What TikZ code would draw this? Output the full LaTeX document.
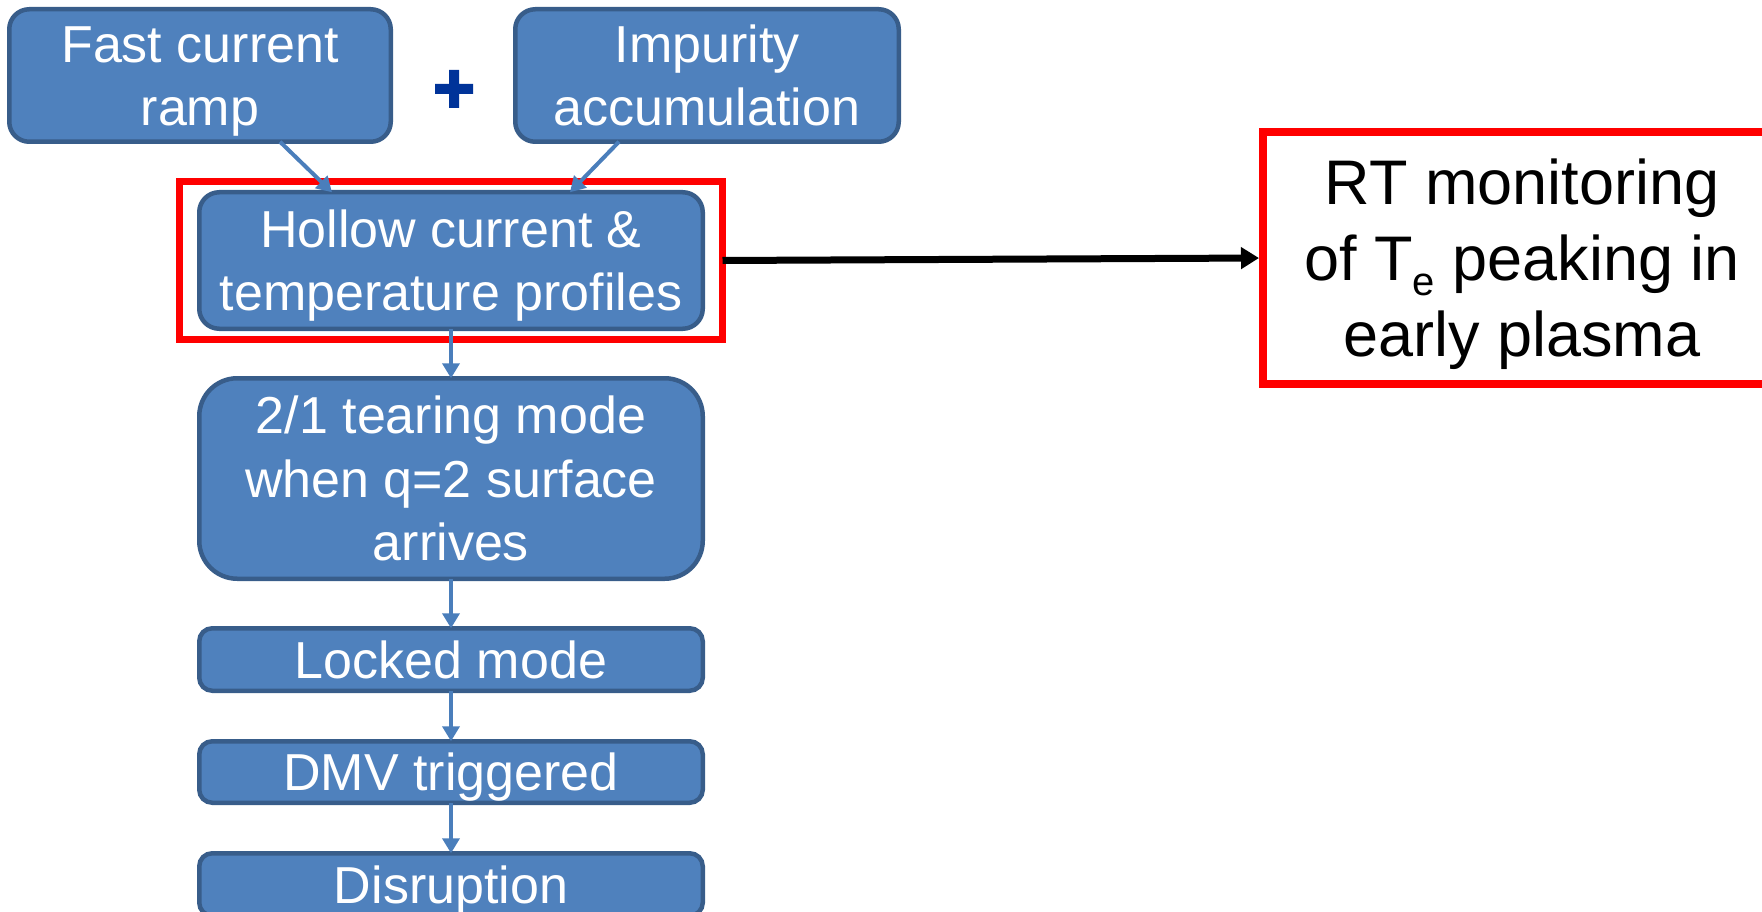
\documentclass[tikz,border=0pt]{standalone}
\usepackage{fontspec}
\setmainfont{Liberation Sans}
\usetikzlibrary{arrows.meta}
\definecolor{boxfill}{HTML}{4F81BD}
\definecolor{boxline}{HTML}{385D8A}
\definecolor{connblue}{HTML}{4A7EBB}
\definecolor{plusblue}{HTML}{003399}
\definecolor{alertred}{HTML}{FF0000}
\begin{document}
\begin{tikzpicture}[x=1pt,y=-1pt,
  stage/.style={draw=boxline, fill=boxfill, line width=4.5pt, text=white,
    align=center, inner sep=0pt, outer sep=0pt,
    font=\fontsize{52}{63.5}\selectfont, text height=37pt, text depth=0pt},
  twoline/.style={text height=100.5pt},
  threeline/.style={text height=164pt},
  redframe/.style={draw=alertred, inner sep=0pt, outer sep=0pt},
  conn/.style={draw=connblue, line width=4pt,
    -{Triangle[length=15pt,width=17pt]}},
  blackarrow/.style={draw=black, line width=7pt,
    -{Triangle[length=18pt,width=21pt]}}]
\useasboundingbox (0,0) rectangle (1762,912);

% top causes
\node[stage, twoline, rounded corners=20pt, minimum width=381.5pt, minimum height=132.5pt]
  (fast) at (200,75.5) {Fast current\\ramp};
\node[stage, twoline, rounded corners=20pt, minimum width=383.5pt, minimum height=132.5pt]
  (imp) at (707,75.5) {Impurity\\accumulation};

% plus sign between the causes
\fill[plusblue] (449,70) -- (459,70) -- (459,84) -- (473,84) -- (473,94) -- (459,94)
  -- (459,108) -- (449,108) -- (449,94) -- (435,94) -- (435,84) -- (449,84) -- cycle;

% chain of events
\node[stage, twoline, rounded corners=20pt, minimum width=503.5pt, minimum height=136.5pt]
  (hollow) at (451,260.5) {Hollow current \&\\temperature profiles};
\node[redframe, line width=7pt, minimum width=543pt, minimum height=157pt]
  (hollowframe) at (451,260.5) {};
\node[stage, threeline, rounded corners=38pt, minimum width=503.5pt, minimum height=200.5pt]
  (tear) at (451,478.5) {2/1 tearing mode\\when q=2 surface\\arrives};
\node[stage, rounded corners=13pt, minimum width=503.5pt, minimum height=62.5pt]
  (locked) at (451,659.5) {Locked mode};
\node[stage, rounded corners=13pt, minimum width=503.5pt, minimum height=61.5pt]
  (dmv) at (451,772) {DMV triggered};
\node[stage, rounded corners=13pt, minimum width=503.5pt, minimum height=62.5pt]
  (disr) at (451,884.5) {Disruption};

% monitoring box
\node[redframe, line width=8pt, minimum width=518pt, minimum height=252pt,
  align=center, font=\fontsize{63}{76}\selectfont, text height=197pt, text depth=0pt]
  (rt) at (1522,258) {RT monitoring\\of T\raisebox{-15pt}{\fontsize{40}{40}\selectfont e} peaking in\\early plasma};

% connectors
\draw[conn] ([xshift=80pt]fast.south) -- ([xshift=-119pt]hollow.north);
\draw[conn] ([xshift=-88pt]imp.south) -- ([xshift=119pt]hollow.north);
\draw[conn] (hollow.south) -- (tear.north);
\draw[conn] (tear.south) -- (locked.north);
\draw[conn] (locked.south) -- (dmv.north);
\draw[conn] (dmv.south) -- (disr.north);
\draw[blackarrow, shorten >=4pt] (hollowframe.east) -- (rt.west);
\end{tikzpicture}
\end{document}
